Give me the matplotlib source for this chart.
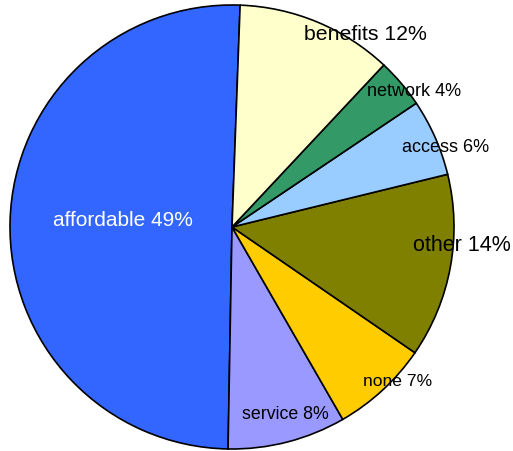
import matplotlib.pyplot as plt

plt.rcParams['font.family'] = ['Liberation Sans', 'DejaVu Sans']

# slice data (counter-clockwise from the top)
categories = ['affordable', 'service', 'none', 'other', 'access', 'network', 'benefits']
shares = [50.3, 8.6, 7.1, 13.4, 5.6, 3.6, 11.4]
label_text = ['affordable 49%', 'service 8%', 'none 7%', 'other 14%',
              'access 6%', 'network 4%', 'benefits 12%']
colors = ['#3366FF', '#9999FF', '#FFCC00', '#808000', '#99CCFF', '#339966', '#FFFFCC']

# label placement in pixels of the 513x452 picture, plus size/colour
label_px = [(123, 221), (285, 415), (398, 382), (462, 246),
            (446, 148), (414, 92), (365, 35)]
label_size = [15, 12.8, 12.6, 15.5, 13, 13, 15.3]
label_color = ['white'] + ['black'] * 6

W, H = 513, 452
cx, cy, R = 232, 228, 222

fig = plt.figure(figsize=(W / 100, H / 100), dpi=100)
ax = fig.add_axes([0, 0, 1, 1])
ax.pie(shares, colors=colors, startangle=87.9, counterclock=True,
       wedgeprops=dict(edgecolor='black', linewidth=1.2))
ax.set_xlim(-cx / R, (W - cx) / R)
ax.set_ylim(-(H - cy) / R, cy / R)
ax.set_aspect('equal')
ax.axis('off')

def to_data(px, py):
    return (px - cx) / R, (cy - py) / R

for txt, (px, py), fs, col in zip(label_text, label_px, label_size, label_color):
    x, y = to_data(px, py)
    ax.text(x, y, txt, ha='center', va='center', fontsize=fs, color=col)

fig.savefig('out.png', dpi=100)
